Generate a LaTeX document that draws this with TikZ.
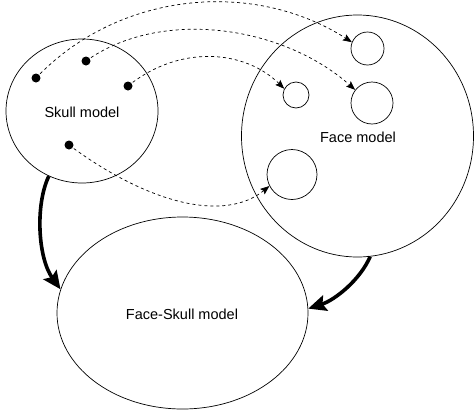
\documentclass[tikz,border=0pt]{standalone}
\usepackage{fontspec}
\setmainfont{Liberation Sans}
\usetikzlibrary{arrows.meta,shapes.geometric}
\begin{document}
\begin{tikzpicture}[x=1pt,y=-1pt,
  blob/.style={draw, ellipse, line width=0.7pt, inner sep=0pt},
  ring/.style={draw, circle, line width=0.7pt, inner sep=0pt},
  pin/.style={circle, fill=black, inner sep=0pt, minimum size=9pt},
  link/.style={dashed, dash pattern=on 3pt off 3pt, line width=0.7pt, -{Stealth[length=9pt,width=7pt,inset=1.5pt]}},
  bigarrow/.style={line width=3.6pt, -{Stealth[length=18pt,width=16pt,inset=3pt]}},
  lbl/.style={font=\fontsize{14.5}{17}\selectfont}]
\useasboundingbox (0,0) rectangle (474,410);
\node[blob, minimum width=152pt, minimum height=144pt] (skull) at (82,111) {};
\node[blob, minimum width=232pt, minimum height=242pt] (face) at (357.5,136) {};
\node[blob, minimum width=251pt, minimum height=192pt] (fs) at (182.5,313) {};
\node[lbl] (skulltxt) at (82,112) {Skull model};
\node[lbl] (facetxt) at (358,137) {Face model};
\node[lbl] (fstxt) at (182,314) {Face-Skull model};
\node[ring, minimum size=33pt] (c1) at (367.5,48.5) {};
\node[ring, minimum size=26pt] (c2) at (296,95) {};
\node[ring, minimum size=42pt] (c3) at (372,103) {};
\node[ring, minimum size=50pt] (c4) at (292,174.5) {};
\node[pin] (d1) at (36,78) {};
\node[pin] (d2) at (86,61) {};
\node[pin] (d3) at (128,86) {};
\node[pin] (d4) at (69,145) {};
\draw[link] (d1.center) .. controls (120,-10) and (255,-20) .. (c1.158);
\draw[link] (d2.center) .. controls (160,8) and (282,25) .. (c3.142);
\draw[link] (d3.center) .. controls (180,44) and (245,50) .. (c2.152);
\draw[link] (d4.center) .. controls (150,205) and (225,222) .. (c4.207);
\draw[bigarrow] (skull.243) .. controls (35,205) and (38,258) .. (fs.169);
\draw[bigarrow] (face.276) .. controls (360,280) and (335,300) .. (fs.2);
\end{tikzpicture}
\end{document}
